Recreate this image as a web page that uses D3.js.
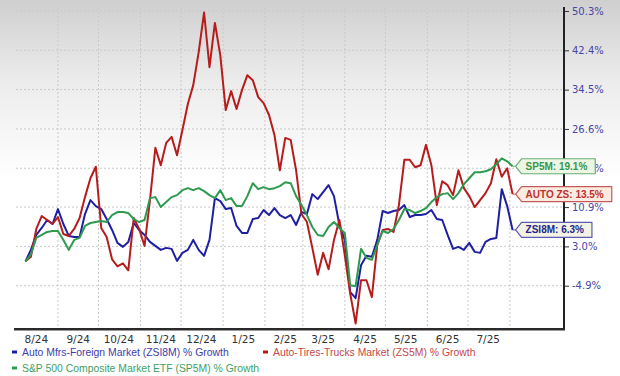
<!DOCTYPE html>
<html>
<head>
<meta charset="utf-8">
<script src="https://cdn.jsdelivr.net/npm/d3@7"></script>
<style>
  body { margin: 0; background: #fff; }
  svg { display: block; }
</style>
</head>
<body>
<svg id="chart" width="620" height="376"></svg>
<script>
// sampled every 4 days starting 8 Aug 2024
const startDate = Date.UTC(2024, 7, 8);
const stepDays = 4;

// Auto-Tires-Trucks Market (ZS5M) % growth
const autoTires = [0.0, 0.9, 6.5, 9.1, 8.3, 7.5, 8.9, 5.5, 5.1, 6.5,
  8.7, 12.9, 16.7, 19.0, 6.7, 4.9, 0.4, -1.0, -0.4, -1.8,
  8.7, 6.5, 3.1, 12.3, 22.8, 19.3, 23.8, 25.0, 21.3, 26.4,
  31.6, 35.4, 42.0, 50.0, 39.0, 47.9, 41.4, 30.4, 34.2, 30.6,
  34.4, 37.4, 36.4, 33.0, 31.8, 29.4, 25.4, 18.3, 24.8, 24.4,
  18.3, 9.5, 7.9, 2.7, -2.7, 1.7, -1.6, 4.3, 8.3, 1.2,
  -6.5, -12.5, -3.8, -3.8, -7.2, 3.3, 6.3, 6.5, 5.9, 11.3,
  20.4, 20.4, 18.9, 19.3, 23.4, 19.3, 11.3, 16.1, 15.3, 13.3,
  18.3, 14.7, 13.1, 10.9, 12.3, 13.7, 15.7, 20.5, 17.0, 18.7,
  13.5];

// S&P 500 Composite Market ETF (SP5M) % growth
const sp500 = [0.0, 1.4, 4.7, 5.3, 5.9, 6.1, 6.1, 4.3, 2.3, 4.3,
  4.7, 7.1, 7.7, 7.9, 8.1, 7.9, 9.3, 9.9, 9.9, 9.7,
  8.5, 7.9, 8.3, 12.7, 12.9, 10.9, 11.9, 12.9, 13.3, 14.3,
  14.7, 14.3, 14.7, 14.1, 13.3, 12.7, 14.3, 12.3, 12.7, 11.1,
  11.1, 13.1, 15.7, 14.5, 14.9, 14.5, 14.7, 15.1, 15.9, 15.7,
  13.1, 11.3, 9.3, 6.9, 5.3, 5.1, 6.9, 7.9, 6.7, 5.7,
  -4.8, -5.0, 2.5, 0.7, 0.3, 3.3, 6.1, 5.7, 6.5, 8.3,
  10.5, 10.3, 9.7, 10.1, 10.7, 11.9, 12.9, 13.5, 13.7, 12.5,
  13.7, 15.5, 16.7, 17.9, 17.9, 18.1, 18.5, 19.5, 20.7, 20.1,
  19.1];

// Auto Mfrs-Foreign Market (ZSI8M) % growth
const autoForeign = [0.0, 2.3, 5.3, 6.7, 8.3, 7.5, 10.5, 7.5, 5.1, 4.9,
  4.9, 9.5, 12.3, 11.1, 10.5, 8.5, 6.3, 3.7, 2.9, 3.9,
  7.7, 6.3, 5.3, 3.9, 3.1, 2.3, 2.7, 2.5, 0.1, 1.7,
  2.3, 4.3, 2.3, 1.1, 4.3, 12.7, 12.1, 10.5, 10.7, 7.1,
  5.7, 5.7, 8.5, 8.7, 10.3, 9.3, 10.7, 9.3, 8.7, 9.3,
  7.3, 9.9, 9.5, 13.5, 12.5, 13.9, 15.3, 13.1, 7.3, 4.3,
  -6.2, -7.4, -0.8, 1.1, 0.9, 4.3, 10.1, 9.7, 10.1, 10.3,
  11.3, 8.9, 9.3, 9.3, 9.5, 10.3, 8.5, 8.3, 5.3, 2.5,
  2.9, 2.3, 3.7, 1.9, 1.7, 3.9, 4.5, 4.7, 14.5, 11.1,
  6.3];

const yTicks = [50.3, 42.4, 34.5, 26.6, 18.7, 10.9, 3.0, -4.9];
const monthLabels = ["8/24", "9/24", "10/24", "11/24", "12/24", "1/25",
  "2/25", "3/25", "4/25", "5/25", "6/25", "7/25"];

const seriesNames = ["Auto Mfrs-Foreign Market (ZSI8M) % Growth",
  "Auto-Tires-Trucks Market (ZS5M) % Growth",
  "S&P 500 Composite Market ETF (SP5M) % Growth"];
const endTags = ["ZSI8M", "AUTO ZS", "SP5M"];

const dates = autoTires.map((d, i) => new Date(startDate + i * stepDays * 864e5));

const plot = { left: 16, right: 564, top: 8, bottom: 329 };

const series = [
  { name: seriesNames[0], tag: endTags[0], values: autoForeign,
    line: "#1f1fa3", text: "#3d3dab", fill: "#f3f2e4", stroke: "#5b5bb3", tagText: "#26268f" },
  { name: seriesNames[1], tag: endTags[1], values: autoTires,
    line: "#b71c1c", text: "#c44848", fill: "#faece0", stroke: "#c65a5a", tagText: "#bf2f2f" },
  { name: seriesNames[2], tag: endTags[2], values: sp500,
    line: "#2e9a4f", text: "#3f9f5c", fill: "#edf5e4", stroke: "#67b073", tagText: "#36974d" }
];

const svg = d3.select("#chart");

const x = d3.scaleUtc()
  .domain([new Date(Date.UTC(2024, 7, 1)), new Date(Date.UTC(2025, 8, 10))])
  .range([plot.left, plot.right]);

const y = d3.scaleLinear()
  .domain([-13.6, 50.3])
  .range([plot.bottom, 11]);

// grey fade at the top
const defs = svg.append("defs");
const grad = defs.append("linearGradient")
  .attr("id", "bg")
  .attr("x1", 0).attr("y1", 0).attr("x2", 0).attr("y2", 1);
grad.append("stop").attr("offset", "0%").attr("stop-color", "#cfcfcf");
grad.append("stop").attr("offset", "45%").attr("stop-color", "#ececec");
grad.append("stop").attr("offset", "100%").attr("stop-color", "#ffffff");

svg.append("rect")
  .attr("x", 0).attr("y", 0)
  .attr("width", 620).attr("height", 180)
  .attr("fill", "url(#bg)");

// grid
const monthStarts = d3.utcMonth.range(new Date(Date.UTC(2024, 8, 1)), new Date(Date.UTC(2025, 7, 2)));

svg.append("g")
  .selectAll("line")
  .data(monthStarts)
  .join("line")
  .attr("x1", d => x(d)).attr("x2", d => x(d))
  .attr("y1", plot.top).attr("y2", plot.bottom)
  .attr("stroke", "#c9c9c9")
  .attr("stroke-dasharray", "2,2");

svg.append("g")
  .selectAll("line")
  .data(yTicks)
  .join("line")
  .attr("x1", plot.left).attr("x2", plot.right)
  .attr("y1", d => y(d)).attr("y2", d => y(d))
  .attr("stroke", "#c9c9c9")
  .attr("stroke-dasharray", "2,2");

// right axis
const yAxis = d3.axisRight(y)
  .tickValues(yTicks)
  .tickSize(5)
  .tickPadding(3)
  .tickFormat(d => d.toFixed(1) + "%");

const yg = svg.append("g")
  .attr("transform", `translate(${plot.right},0)`)
  .call(yAxis);
yg.select(".domain").remove();
yg.selectAll(".tick line").attr("stroke", "#333");
yg.selectAll(".tick text")
  .attr("fill", "#4646a8")
  .style("font", "10px 'DejaVu Sans', sans-serif");

svg.append("line")
  .attr("x1", plot.right).attr("x2", plot.right)
  .attr("y1", plot.top - 1).attr("y2", plot.bottom + 1)
  .attr("stroke", "#222").attr("stroke-width", 2);

// bottom axis
svg.append("line")
  .attr("x1", plot.left - 2).attr("x2", plot.right + 1)
  .attr("y1", plot.bottom + 1.5).attr("y2", plot.bottom + 1.5)
  .attr("stroke", "#9a9a9a").attr("stroke-width", 1);
svg.append("line")
  .attr("x1", plot.left - 2).attr("x2", plot.right + 1)
  .attr("y1", plot.bottom).attr("y2", plot.bottom)
  .attr("stroke", "#2a2a2a").attr("stroke-width", 2);

const midMonths = d3.utcMonth.range(new Date(Date.UTC(2024, 7, 1)), new Date(Date.UTC(2025, 7, 1)))
  .map(d => new Date(d.getTime() + 15 * 864e5));

svg.append("g")
  .selectAll("text")
  .data(monthLabels)
  .join("text")
  .attr("x", (d, i) => x(midMonths[i]))
  .attr("y", 343)
  .attr("text-anchor", "middle")
  .attr("fill", "#333")
  .style("font", "10.5px 'DejaVu Sans', sans-serif")
  .text(d => d);

// lines
const line = d3.line()
  .x((d, i) => x(dates[i]))
  .y(d => y(d));

svg.append("g")
  .selectAll("path")
  .data(series)
  .join("path")
  .attr("d", d => line(d.values))
  .attr("fill", "none")
  .attr("stroke", d => d.line)
  .attr("stroke-width", 2)
  .attr("stroke-linejoin", "round");

// end tags (they sit over the axis labels, as in the original)
const lastX = x(dates[dates.length - 1]);
series.forEach(s => {
  const v = s.values[s.values.length - 1];
  const cy = y(v);
  const g = svg.append("g");
  const path = g.append("path");
  const label = g.append("text")
    .attr("x", lastX + 13)
    .attr("y", cy + 3.5)
    .attr("fill", s.tagText)
    .style("font", "bold 10px 'Liberation Sans', Arial, sans-serif")
    .text(`${s.tag}: ${v.toFixed(1)}%`);
  const w = label.node().getComputedTextLength();
  const x0 = lastX + 3, x1 = lastX + 9, x2 = lastX + 13 + w + 8, h = 7.5;
  path.attr("d", `M${x0},${cy} L${x1},${cy - h} L${x2},${cy - h} L${x2},${cy + h} L${x1},${cy + h} Z`)
    .attr("fill", s.fill)
    .attr("stroke", s.stroke)
    .attr("stroke-width", 1.2)
    .attr("stroke-linejoin", "round");
  g.append("line")
    .attr("x1", lastX).attr("x2", x0)
    .attr("y1", cy).attr("y2", cy)
    .attr("stroke", s.stroke);
});

// legend
const legendPos = [[12, 352], [263, 352], [12, 368]];
const legend = svg.append("g")
  .selectAll("g")
  .data(series)
  .join("g")
  .attr("transform", (d, i) => `translate(${legendPos[i][0]},${legendPos[i][1]})`);

legend.append("rect")
  .attr("x", 0).attr("y", -1.5)
  .attr("width", 5).attr("height", 3)
  .attr("fill", d => d.line);

legend.append("text")
  .attr("x", 10).attr("y", 3.5)
  .attr("fill", d => d.text)
  .style("font", "10.4px 'Liberation Sans', Arial, sans-serif")
  .text(d => d.name);
</script>
</body>
</html>
